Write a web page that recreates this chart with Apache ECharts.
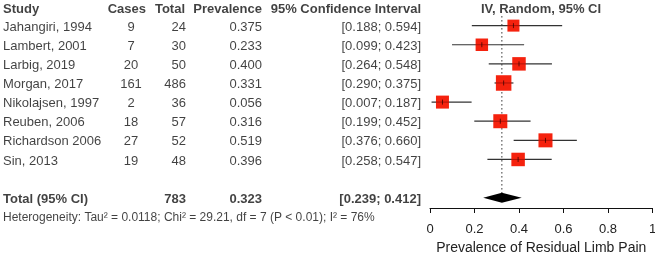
<!DOCTYPE html>
<html><head><meta charset="utf-8">
<script src="https://cdn.jsdelivr.net/npm/echarts@6/dist/echarts.min.js"></script>
<style>html,body{margin:0;padding:0;background:#fff}#c{width:655px;height:257px}</style>
</head><body><div id="c"></div>
<script>
// ---- data ----
const studies = ["Jahangiri, 1994","Lambert, 2001","Larbig, 2019","Morgan, 2017","Nikolajsen, 1997","Reuben, 2006","Richardson 2006","Sin, 2013"];
const cases = [9, 7, 20, 161, 2, 18, 27, 19];
const totals = [24, 30, 50, 486, 36, 57, 52, 48];
const prevalence = [0.375, 0.233, 0.400, 0.331, 0.056, 0.316, 0.519, 0.396];
const ciLow = [0.188, 0.099, 0.264, 0.290, 0.007, 0.199, 0.376, 0.258];
const ciHigh = [0.594, 0.423, 0.548, 0.375, 0.187, 0.452, 0.660, 0.547];
const weights = [9.8, 10.6, 12.4, 16.4, 11.5, 13.4, 13.4, 12.4]; // estimated % weights (square area)
const pooledTotal = 783;
const pooledEst = 0.323;
const pooledLow = 0.239;
const pooledHigh = 0.412;
const xTicks = [0, 0.2, 0.4, 0.6, 0.8, 1];
const headers = ["Study", "Cases", "Total", "Prevalence", "95% Confidence Interval", "IV, Random, 95% CI"];
const heterogeneity = "Heterogeneity: Tau\u00b2 = 0.0118; Chi\u00b2 = 29.21, df = 7 (P < 0.01); I\u00b2 = 76%";
const totalLabel = "Total (95% CI)";
const axisTitle = "Prevalence of Residual Limb Pain";

// ---- layout ----
const FONT = "Liberation Sans, Arial, sans-serif";
const rowIdx = studies.map((s, i) => i);
const TOTAL_ROW = 9, HEADER_ROW = -0.9, HET_ROW = 9.95;
const GRID_TOP = 6.5, ROW_H = 19.12, Y_MIN = -1;
const fmt3 = v => v.toFixed(3);
const ciText = (l, h) => "[" + fmt3(l) + "; " + fmt3(h) + "]";

function textSeries(x, rows, texts, align, bold, size) {
  return {
    type: 'scatter', xAxisIndex: 1, yAxisIndex: 1, symbolSize: 0, silent: true, z: 10,
    itemStyle: {color: 'transparent'},
    data: rows.map((r, i) => ({value: [x, r], label: {formatter: String(texts[i])}})),
    label: {show: true, position: 'inside', align: align, verticalAlign: 'middle', offset: [0, 1.5],
      fontFamily: FONT, fontSize: size || 13, fontWeight: bold ? 'bold' : 'normal', color: '#111'}
  };
}

const chart = echarts.init(document.getElementById('c'), null, {renderer: 'canvas'});
const forestData = studies.map((s, i) => [ciLow[i], ciHigh[i], prevalence[i], i, weights[i]]);

chart.setOption({
  animation: false,
  grid: [
    {left: 430, width: 222.5, top: GRID_TOP, height: 201.5, outerBoundsMode: 'none'},
    {left: 0, width: 655, top: GRID_TOP, height: 240, outerBoundsMode: 'none'}
  ],
  xAxis: [
    {type: 'value', gridIndex: 0, min: xTicks[0], max: xTicks[xTicks.length - 1], interval: 0.2,
     splitLine: {show: false},
     axisLine: {show: true, onZero: false, lineStyle: {color: '#111', width: 1}},
     axisTick: {show: true, length: 5, lineStyle: {color: '#111'}},
     axisLabel: {fontFamily: FONT, fontSize: 13, color: '#222', margin: 15},
     name: axisTitle, nameLocation: 'middle', nameGap: 31,
     nameTextStyle: {fontFamily: FONT, fontSize: 14, color: '#222'}},
    {type: 'value', gridIndex: 1, min: 0, max: 655, show: false}
  ],
  yAxis: [
    {type: 'value', gridIndex: 0, min: Y_MIN, max: Y_MIN + 201.5 / ROW_H, inverse: true, show: false},
    {type: 'value', gridIndex: 1, min: Y_MIN, max: Y_MIN + 240 / ROW_H, inverse: true, show: false}
  ],
  series: [
    // dotted pooled-estimate line
    {type: 'custom', xAxisIndex: 0, yAxisIndex: 0, silent: true, z: 1,
     data: [[pooledEst, -0.5, TOTAL_ROW]],
     renderItem: function (params, api) {
       const a = api.coord([api.value(0), api.value(1)]);
       const b = api.coord([api.value(0), api.value(2)]);
       return {type: 'line', shape: {x1: a[0], y1: a[1], x2: b[0], y2: b[1]},
         style: {stroke: '#333', lineWidth: 1, lineDash: [1.5, 2.5]}};
     }},
    // study CIs + squares
    {type: 'custom', xAxisIndex: 0, yAxisIndex: 0, silent: true, z: 3,
     data: forestData,
     renderItem: function (params, api) {
       const row = api.value(3);
       const l = api.coord([api.value(0), row]);
       const h = api.coord([api.value(1), row]);
       const c = api.coord([api.value(2), row]);
       const s = 3.83 * Math.sqrt(api.value(4));
       return {type: 'group', children: [
         {type: 'line', shape: {x1: l[0], y1: l[1], x2: h[0], y2: h[1]},
          style: {stroke: '#333', lineWidth: 1.2}},
         {type: 'rect', shape: {x: c[0] - s / 2, y: c[1] - s / 2, width: s, height: s},
          style: {fill: '#f5220e'}},
         {type: 'line', shape: {x1: c[0] - s / 2, y1: c[1], x2: c[0] + s / 2, y2: c[1]},
          style: {stroke: 'rgba(90,0,0,0.45)', lineWidth: 1}},
         {type: 'line', shape: {x1: c[0], y1: c[1] - 2.5, x2: c[0], y2: c[1] + 2.5},
          style: {stroke: 'rgba(40,0,0,0.7)', lineWidth: 1}}
       ]};
     }},
    // pooled diamond
    {type: 'custom', xAxisIndex: 0, yAxisIndex: 0, silent: true, z: 4,
     data: [[pooledLow, pooledEst, pooledHigh, TOTAL_ROW]],
     renderItem: function (params, api) {
       const row = api.value(3);
       const l = api.coord([api.value(0), row]);
       const c = api.coord([api.value(1), row]);
       const h = api.coord([api.value(2), row]);
       return {type: 'polygon', shape: {points: [[l[0], l[1]], [c[0], c[1] - 5], [h[0], h[1]], [c[0], c[1] + 5]]},
         style: {fill: '#000'}};
     }},
    // table header
    textSeries(3, [HEADER_ROW], [headers[0]], 'left', true),
    textSeries(146, [HEADER_ROW], [headers[1]], 'right', true),
    textSeries(185, [HEADER_ROW], [headers[2]], 'right', true),
    textSeries(262, [HEADER_ROW], [headers[3]], 'right', true),
    textSeries(421, [HEADER_ROW], [headers[4]], 'right', true),
    textSeries(541, [HEADER_ROW], [headers[5]], 'center', true),
    // study rows
    textSeries(3, rowIdx, studies, 'left'),
    textSeries(131, rowIdx, cases, 'center'),
    textSeries(186, rowIdx, totals, 'right'),
    textSeries(262, rowIdx, prevalence.map(fmt3), 'right'),
    textSeries(421, rowIdx, studies.map((s, i) => ciText(ciLow[i], ciHigh[i])), 'right'),
    // total row
    textSeries(3, [TOTAL_ROW], [totalLabel], 'left', true),
    textSeries(186, [TOTAL_ROW], [pooledTotal], 'right', true),
    textSeries(262, [TOTAL_ROW], [fmt3(pooledEst)], 'right', true),
    textSeries(421, [TOTAL_ROW], [ciText(pooledLow, pooledHigh)], 'right', true),
    // heterogeneity
    textSeries(3, [HET_ROW], [heterogeneity], 'left', false, 12)
  ]
});
</script></body></html>
